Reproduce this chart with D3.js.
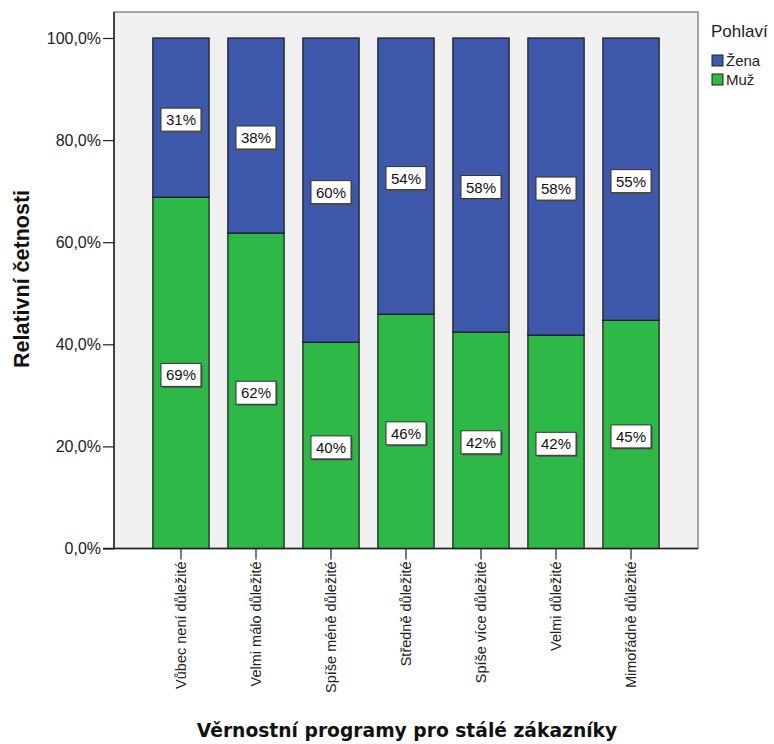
<!DOCTYPE html>
<html>
<head>
<meta charset="utf-8">
<script src="https://cdn.jsdelivr.net/npm/d3@7"></script>
<style>
  html, body { margin: 0; padding: 0; background: #fff; }
  svg { display: block; }
</style>
</head>
<body>
<svg id="chart" width="774" height="744"></svg>
<script>
// Loyalty-programme importance by gender (relative frequencies, %)
const categories = [
  "Vůbec není důležité",
  "Velmi málo důležité",
  "Spíše méně důležité",
  "Středně důležité",
  "Spíše více důležité",
  "Velmi důležité",
  "Mimořádně důležité"
];
const muz  = [68.8, 61.8, 40.4, 45.9, 42.4, 41.8, 44.7];
const zena = [31.2, 38.2, 59.6, 54.1, 57.6, 58.2, 55.3];
const seriesNames = ["Žena", "Muž"];
const yTicks = [0, 20, 40, 60, 80, 100];

const colors = { "Žena": "#3E58AC", "Muž": "#2EB848" };

const svg = d3.select("#chart");
const frame = { left: 114, top: 12, right: 698, bottom: 548.5 };

const x = d3.scaleBand()
  .domain(categories)
  .range([frame.left, frame.right])
  .paddingInner(0.25)
  .paddingOuter(0.518);

const y = d3.scaleLinear().domain([0, 100]).range([548.5, 38]);

// plot background
svg.append("rect")
  .attr("x", frame.left).attr("y", frame.top)
  .attr("width", frame.right - frame.left)
  .attr("height", frame.bottom - frame.top)
  .attr("fill", "#F0F0F0")
  .attr("stroke", "#8a8a8a").attr("stroke-width", 1.5);

// stacked data: Muž at bottom, Žena on top
const rows = categories.map((c, i) => ({ cat: c, "Muž": muz[i], "Žena": zena[i] }));
const stack = d3.stack().keys(["Muž", "Žena"]);
const layers = stack(rows);

const g = svg.append("g");
layers.forEach(layer => {
  g.selectAll(null)
    .data(layer)
    .join("rect")
    .attr("x", d => x(d.data.cat))
    .attr("y", d => y(d[1]))
    .attr("width", x.bandwidth())
    .attr("height", d => y(d[0]) - y(d[1]))
    .attr("fill", colors[layer.key])
    .attr("stroke", "#1a1a1a")
    .attr("stroke-width", 1.2);
});

// value labels in boxes at segment centres
const labelG = svg.append("g");
layers.forEach(layer => {
  layer.forEach(d => {
    const cx = x(d.data.cat) + x.bandwidth() / 2;
    const cy = (y(d[0]) + y(d[1])) / 2 + 2;
    const txt = Math.round(d[1] - d[0]) + "%";
    const w = 40, h = 23;
    labelG.append("rect")
      .attr("x", cx - w / 2 + 1.5).attr("y", cy - h / 2 + 1.5)
      .attr("width", w).attr("height", h)
      .attr("fill", "#555");
    labelG.append("rect")
      .attr("x", cx - w / 2).attr("y", cy - h / 2)
      .attr("width", w).attr("height", h)
      .attr("fill", "#fff")
      .attr("stroke", "#333").attr("stroke-width", 1);
    labelG.append("text")
      .attr("x", cx).attr("y", cy + 5.5)
      .attr("text-anchor", "middle")
      .attr("font-family", "'Liberation Sans', Arial, sans-serif")
      .attr("font-size", 15)
      .attr("fill", "#111")
      .text(txt);
  });
});

// y axis
const yAxis = d3.axisLeft(y)
  .tickValues(yTicks)
  .tickSize(11)
  .tickPadding(2)
  .tickFormat(d => d3.format(".1f")(d).replace(".", ",") + "%");
const yg = svg.append("g")
  .attr("transform", `translate(${frame.left},0)`)
  .call(yAxis);
yg.select(".domain").attr("d", `M0,${frame.top}V${frame.bottom}`).attr("stroke", "#222").attr("stroke-width", 1.5);
yg.selectAll(".tick line").attr("stroke", "#222").attr("stroke-width", 1.2);
yg.selectAll(".tick text")
  .attr("font-family", "'Liberation Sans', Arial, sans-serif")
  .attr("font-size", 16).attr("fill", "#222");

// x axis
const xAxis = d3.axisBottom(x).tickSize(11).tickPadding(3);
const xg = svg.append("g")
  .attr("transform", `translate(0,${frame.bottom})`)
  .call(xAxis);
xg.select(".domain").attr("d", `M103,0H${frame.right}`).attr("stroke", "#222").attr("stroke-width", 1.5);
xg.selectAll(".tick line").attr("stroke", "#222").attr("stroke-width", 1.2);
xg.selectAll(".tick text")
  .attr("font-family", "'Liberation Sans', Arial, sans-serif")
  .attr("font-size", 14.5).attr("fill", "#222")
  .attr("transform", "rotate(-90)")
  .attr("text-anchor", "end")
  .attr("dy", "0.35em")
  .attr("x", -13).attr("y", 0);

// axis titles
svg.append("text")
  .attr("x", 407).attr("y", 737)
  .attr("text-anchor", "middle")
  .attr("font-family", "'DejaVu Sans', Verdana, sans-serif")
  .attr("font-weight", "bold")
  .attr("font-size", 18.7)
  .attr("fill", "#111")
  .text("Věrnostní programy pro stálé zákazníky");

svg.append("text")
  .attr("transform", "translate(29,279) rotate(-90)")
  .attr("text-anchor", "middle")
  .attr("font-family", "'Liberation Sans', Arial, sans-serif")
  .attr("font-weight", "bold")
  .attr("font-size", 21.5)
  .attr("fill", "#111")
  .text("Relativní četnosti");

// legend
const lg = svg.append("g");
lg.append("text")
  .attr("x", 711).attr("y", 37)
  .attr("font-family", "'Liberation Sans', Arial, sans-serif")
  .attr("font-size", 17).attr("fill", "#222")
  .text("Pohlaví");
seriesNames.forEach((s, i) => {
  const yy = 55 + i * 19;
  lg.append("rect")
    .attr("x", 712).attr("y", yy)
    .attr("width", 11).attr("height", 11)
    .attr("fill", colors[s]).attr("stroke", "#222").attr("stroke-width", 1);
  lg.append("text")
    .attr("x", 726).attr("y", yy + 11)
    .attr("font-family", "'Liberation Sans', Arial, sans-serif")
    .attr("font-size", 15).attr("fill", "#222")
    .text(s);
});
</script>
</body>
</html>
